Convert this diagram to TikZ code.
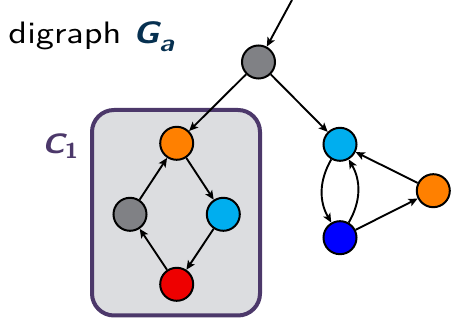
\documentclass[tikz,border=0pt]{standalone}
\usetikzlibrary{arrows.meta}
\definecolor{ngray}{RGB}{128,129,133}
\definecolor{norange}{RGB}{255,128,0}
\definecolor{nlblue}{RGB}{0,174,239}
\definecolor{nblue}{RGB}{0,0,255}
\definecolor{nred}{RGB}{238,0,0}
\definecolor{boxgray}{RGB}{220,221,224}
\definecolor{cpurple}{RGB}{76,56,106}
\definecolor{gnavy}{RGB}{6,48,80}
\begin{document}
\begin{tikzpicture}[x=1pt,y=-1pt,
  vtx/.style={circle, draw=black, line width=2pt, minimum size=33pt, inner sep=0pt},
  edge/.style={line width=1.9pt, -{Stealth[length=9pt,width=8pt,inset=2pt]}},
  lbl/.style={anchor=base west, inner sep=0pt, outer sep=0pt}]
\useasboundingbox (0,0) rectangle (451,320);
% cluster box
\draw[line width=4pt, draw=cpurple, fill=boxgray, rounded corners=22pt] (92,110) rectangle (260,315.5);
% labels
\node[lbl, scale=3.1, xscale=1.17] (title) at (8.5,43.3)
  {\fontsize{10}{12}\selectfont\sffamily digraph};
\node[lbl, scale=3.1, xscale=1.15, text=gnavy] (gname) at (133,43.3)
  {\fontsize{10}{12}\selectfont\sffamily\bfseries\itshape G\raisebox{-2.8pt}{\fontsize{7.8}{9}\selectfont a}};
\node[lbl, scale=2.8, xscale=1.15, text=cpurple] (c1lbl) at (42,153.3)
  {\fontsize{10}{12}\selectfont\sffamily\bfseries\itshape C\raisebox{-1.8pt}{\fontsize{7.7}{9}\selectfont\upshape 1}};
% vertices
\node[vtx, fill=ngray] (g0) at (258.5,62) {};
\node[vtx, fill=norange] (o1) at (176.7,143.3) {};
\node[vtx, fill=ngray] (g1) at (130,214.3) {};
\node[vtx, fill=nlblue] (b1) at (223.3,214.3) {};
\node[vtx, fill=nred] (r1) at (176.7,284.3) {};
\node[vtx, fill=nlblue] (lb) at (340,144.3) {};
\node[vtx, fill=nblue] (db) at (340,237.7) {};
\node[vtx, fill=norange] (o2) at (433.3,190.7) {};
\coordinate (in) at (292,0);
% edges
\draw[edge] (in) -- (g0);
\draw[edge] (g0) -- (o1);
\draw[edge] (g0) -- (lb);
\draw[edge] (o1) -- (b1);
\draw[edge] (b1) -- (r1);
\draw[edge] (r1) -- (g1);
\draw[edge] (g1) -- (o1);
\draw[edge] (lb) to[bend right=30] (db);
\draw[edge] (db) to[bend right=30] (lb);
\draw[edge] (db) -- (o2);
\draw[edge] (o2) -- (lb);
\end{tikzpicture}
\end{document}
